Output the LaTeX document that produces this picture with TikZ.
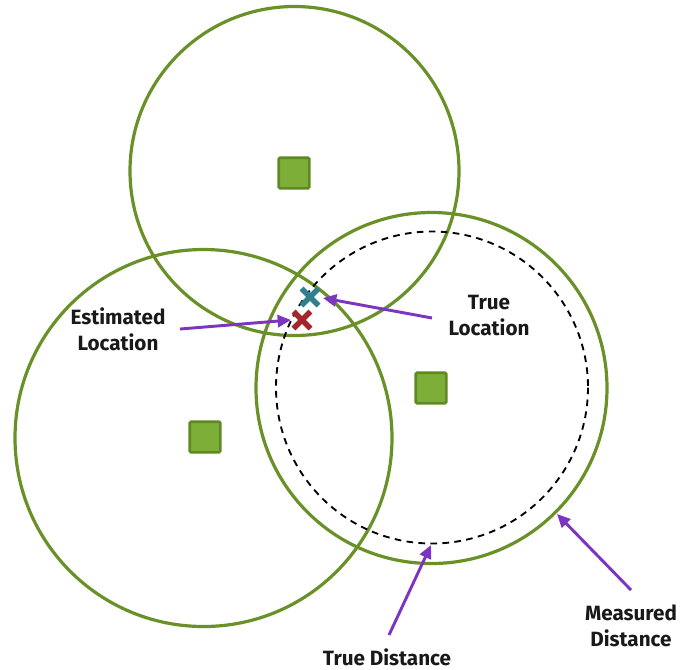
\documentclass[tikz,border=0pt]{standalone}
\usepackage{fontspec}
\setmainfont{Fira Sans}
\usetikzlibrary{arrows.meta,calc}
\definecolor{ring}{HTML}{6A9128}
\definecolor{sqfill}{HTML}{7DAE38}
\definecolor{sqedge}{HTML}{5F8A22}
\definecolor{arr}{HTML}{7B35C0}
\definecolor{teal}{HTML}{2F7F8E}
\definecolor{darkred}{HTML}{A3262A}
\tikzset{
  ring/.style={draw=ring, line width=2.4pt},
  truering/.style={draw=black, line width=1.4pt, dash pattern=on 5pt off 4pt},
  anchorsq/.style={draw=sqedge, fill=sqfill, line width=2pt, minimum size=23pt, inner sep=0pt, rounded corners=1pt},
  lbl/.style={font=\fontsize{15.5}{19.5}\selectfont\bfseries, align=center, text=black!90},
  pointer/.style={draw=arr, line width=2.2pt, -{Triangle[length=10pt,width=9pt]}},
  xmark/.style={line width=4pt}
}
\begin{document}
\begin{tikzpicture}[x=0.75pt,y=-0.75pt]
\useasboundingbox (0,0) rectangle (681,669);
% circles
\draw[ring] (294.5,171) circle (164.5);
\draw[ring] (203.5,438) circle (188.5);
\draw[ring] (431.5,388) circle (175.5);
\draw[truering] (432,387.5) circle (156);
% anchors
\node[anchorsq] (a1) at (294,173) {};
\node[anchorsq] (a2) at (205,437) {};
\node[anchorsq] (a3) at (431,388) {};
% crosses
\coordinate (tl) at (310,297);
\coordinate (el) at (302,320);
\draw[teal, xmark] ($(tl)+(-8.5,-8.5)$) -- ($(tl)+(8.5,8.5)$) ($(tl)+(-8.5,8.5)$) -- ($(tl)+(8.5,-8.5)$);
\draw[darkred, xmark] ($(el)+(-8.5,-8.5)$) -- ($(el)+(8.5,8.5)$) ($(el)+(-8.5,8.5)$) -- ($(el)+(8.5,-8.5)$);
% labels
\node[lbl] (est) at (118,329) {Estimated\\Location};
\node[lbl] (tru) at (489,316) {True\\Location};
\node[lbl] (td) at (387,657) {True Distance};
\node[lbl] (md) at (631,626) {Measured\\Distance};
% arrow targets
\coordinate (estT) at (291,320);
\coordinate (truT) at (323,298);
\coordinate (tdT) at (431,545);
\coordinate (mdT) at (557,514);
\coordinate (estS) at (180,329);
\coordinate (truS) at (432,318);
\coordinate (tdS) at (389,635);
\coordinate (mdS) at (631,590);
\draw[pointer] (estS) -- (estT);
\draw[pointer] (truS) -- (truT);
\draw[pointer] (tdS) -- (tdT);
\draw[pointer] (mdS) -- (mdT);
\end{tikzpicture}
\end{document}
